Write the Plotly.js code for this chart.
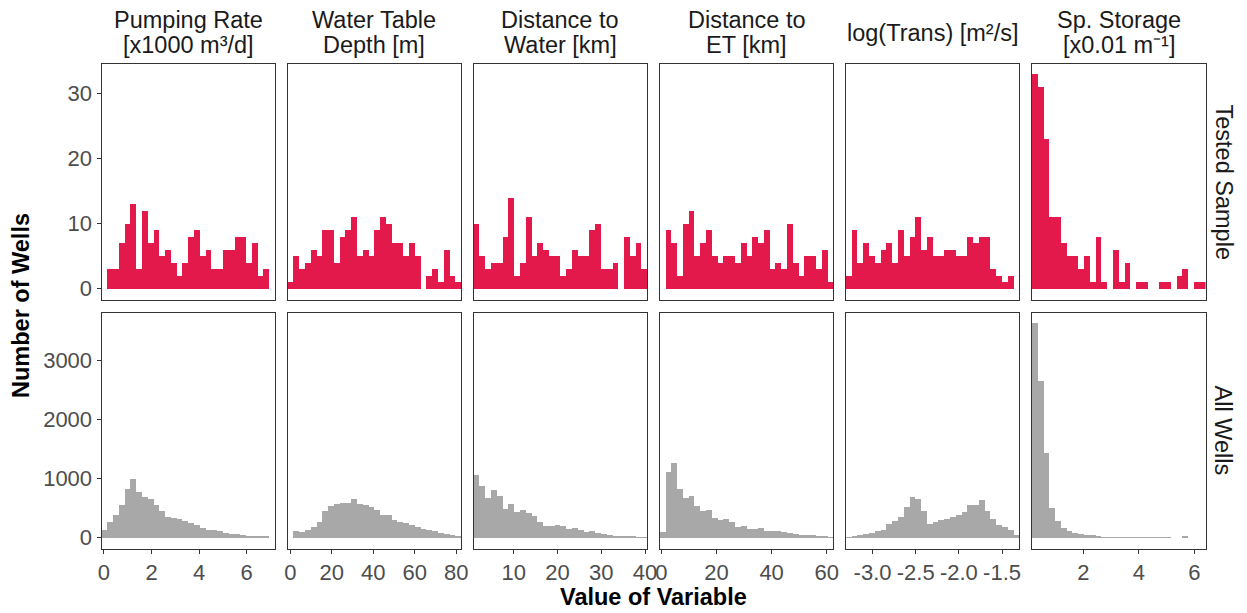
<!DOCTYPE html>
<html><head><meta charset="utf-8">
<script src="https://cdn.plot.ly/plotly-3.0.1.min.js"></script>
<style>html,body{margin:0;padding:0;background:#fff}</style>
</head><body><div id="chart" style="width:1247px;height:613px"></div>
<script>
// ---- data ----
const titleLine1 = ["Pumping Rate", "Water Table", "Distance to", "Distance to", "log(Trans) [m²/s]", "Sp. Storage"];
const titleLine2 = ["[x1000 m³/d]", "Depth [m]", "Water [km]", "ET [km]", "", "[x0.01 m⁻¹]"];
const rowLabels = ["Tested Sample", "All Wells"];
const binLo = [-0.105, -1.3, 0.84, -0.6, -3.309, 0.145];
const binHi = [7.197, 82.4, 40.5, 62.4, -1.299, 6.397];
const tickVals = [[0,2,4,6],[0,20,40,60,80],[10,20,30,40],[0,20,40,60],[-3,-2.5,-2,-1.5],[2,4,6]];
const tickText = [["0","2","4","6"],["0","20","40","60","80"],["10","20","30","40"],["0","20","40","60"],["-3.0","-2.5","-2.0","-1.5"],["2","4","6"]];
const topTicks = [0,10,20,30];
const bottomTicks = [0,1000,2000,3000];

const testedPumping = [0,3,3,7,10,13,3,12,7,9,5,6,4,2,4,8,9,5,6,3,3,6,6,8,8,4,7,2,3,0];
const testedDepth   = [1,5,3,4,6,5,9,9,4,8,9,11,5,6,5,9,11,10,7,7,5,7,5,0,2,3,1,6,2,1];
const testedWater   = [10,5,3,4,4,8,14,2,4,11,5,7,6,5,5,2,3,6,5,5,9,10,3,3,4,0,8,5,7,3];
const testedET      = [0,9,7,2,10,12,5,7,9,5,4,5,5,4,7,5,8,7,9,3,4,3,10,4,2,5,5,3,6,1];
const testedTrans   = [2,9,4,7,5,4,6,7,4,9,5,8,11,6,8,5,5,6,6,5,5,8,7,8,8,3,2,1,2,0];
const testedStorage = [33,31,23,11,11,7,5,5,3,5,1,8,1,0,6,1,4,0,1,1,0,0,1,1,0,2,3,0,1,1];

const allPumping = [130,264,393,562,826,989,775,697,652,562,449,354,331,320,281,242,208,163,140,135,107,79,67,67,51,28,34,34,28,0];
const allDepth   = [0,112,90,135,174,270,449,534,573,590,596,657,579,556,522,466,382,382,309,275,253,219,180,146,124,107,84,62,39,28];
const allWater   = [1067,871,674,809,713,494,573,433,466,421,371,270,197,197,219,202,152,163,124,90,107,73,56,39,34,34,28,22,11,6];
const allET      = [101,1112,1270,831,674,713,539,449,478,337,298,326,270,180,191,152,152,169,112,107,112,90,73,67,51,51,39,34,22,11];
const allTrans   = [17,34,45,62,73,107,140,225,281,348,517,691,657,449,230,270,309,326,360,388,438,562,562,635,449,320,208,180,129,45];
const allStorage = [3635,2652,1433,500,281,157,107,79,67,51,39,22,17,11,6,11,11,11,11,11,6,6,6,6,0,0,34,0,0,0];

const testedCounts = [testedPumping, testedDepth, testedWater, testedET, testedTrans, testedStorage];
const allCounts = [allPumping, allDepth, allWater, allET, allTrans, allStorage];

// ---- styling / layout ----
const W = 1247, H = 613;
const RED = '#E3194B', GRAY = '#A8A8A8';
const FONT = '"Liberation Sans", Arial, sans-serif';
const TICK_SIZE = 22, TITLE_SIZE = 23.5;
const colLeft = 101.5, colWidth = 173.5, colStep = 186.1;
const topRow = [63.5, 299.5], botRow = [312.5, 548.5];
const topRange = [-1.65, 34.65], botRange = [-181.5, 3811.5];

const px = v => v / W;
const py = v => 1 - v / H;

const traces = [];
const layout = {
  width: W, height: H, margin: {l:0, r:0, t:0, b:0},
  paper_bgcolor: '#fff', plot_bgcolor: '#fff',
  showlegend: false, bargap: 0,
  font: {family: FONT, color: '#4D4D4D', size: TICK_SIZE},
  annotations: []
};

function binCenters(i, n) {
  const w = (binHi[i] - binLo[i]) / n;
  const c = [];
  for (let k = 0; k < n; k++) c.push(binLo[i] + w * (k + 0.5));
  return {c, w};
}

for (let i = 0; i < 6; i++) {
  const xd = [px(colLeft + i * colStep), px(colLeft + i * colStep + colWidth)];
  [[testedCounts[i], RED, topRow, topRange, topTicks, i + 1, false],
   [allCounts[i], GRAY, botRow, botRange, bottomTicks, i + 7, true]].forEach(([counts, col, row, yr, yt, n, bottom]) => {
    const b = binCenters(i, counts.length);
    traces.push({type: 'bar', x: b.c, y: counts, width: b.w, xaxis: 'x' + n, yaxis: 'y' + n,
      marker: {color: col, line: {width: 0}}, hoverinfo: 'skip'});
    layout['xaxis' + n] = {
      domain: xd, range: [binLo[i], binHi[i]], anchor: 'y' + n,
      showline: true, mirror: true, linecolor: '#333', linewidth: 1,
      showgrid: false, zeroline: false, fixedrange: true,
      ticks: bottom ? 'outside' : '', ticklen: 4, tickwidth: 1, tickcolor: '#333',
      showticklabels: bottom, tickmode: 'array', tickvals: tickVals[i], ticktext: tickText[i],
      tickfont: {family: FONT, size: TICK_SIZE, color: '#4D4D4D'}
    };
    layout['yaxis' + n] = {
      domain: [py(row[1]), py(row[0])], range: yr, anchor: 'x' + n,
      showline: true, mirror: true, linecolor: '#333', linewidth: 1,
      showgrid: false, zeroline: false, fixedrange: true,
      ticks: i === 0 ? 'outside' : '', ticklen: 4, tickwidth: 1, tickcolor: '#333',
      showticklabels: i === 0, tickmode: 'array', tickvals: yt,
      tickfont: {family: FONT, size: TICK_SIZE, color: '#4D4D4D'}
    };
  });
  const cx = px(colLeft + i * colStep + colWidth / 2);
  const tf = {family: FONT, size: TITLE_SIZE, color: '#1a1a1a'};
  if (titleLine2[i]) {
    layout.annotations.push({xref:'paper', yref:'paper', x: cx, y: py(20), text: titleLine1[i], showarrow:false,
      xanchor:'center', yanchor:'middle', font: tf});
    layout.annotations.push({xref:'paper', yref:'paper', x: cx, y: py(45), text: titleLine2[i], showarrow:false,
      xanchor:'center', yanchor:'middle', font: tf});
  } else {
    layout.annotations.push({xref:'paper', yref:'paper', x: cx, y: py(33), text: titleLine1[i], showarrow:false,
      xanchor:'center', yanchor:'middle', font: tf});
  }
}
// row strip labels
[topRow, botRow].forEach((r, k) => {
  layout.annotations.push({xref:'paper', yref:'paper', x: px(1223), y: py((r[0] + r[1]) / 2), text: rowLabels[k],
    showarrow:false, textangle: 90, xanchor:'center', yanchor:'middle', font:{family: FONT, size: TITLE_SIZE, color:'#1a1a1a'}});
});
// axis titles
layout.annotations.push({xref:'paper', yref:'paper', x: px(21), y: py((topRow[0] + botRow[1]) / 2), text: '<b>Number of Wells</b>',
  showarrow:false, textangle: -90, xanchor:'center', yanchor:'middle', font:{family: FONT, size: TITLE_SIZE, color:'#000'}});
layout.annotations.push({xref:'paper', yref:'paper', x: px(colLeft + (5 * colStep + colWidth) / 2), y: py(597), text: '<b>Value of Variable</b>',
  showarrow:false, xanchor:'center', yanchor:'middle', font:{family: FONT, size: TITLE_SIZE, color:'#000'}});

Plotly.newPlot('chart', traces, layout, {displayModeBar: false, staticPlot: true});
</script></body></html>
